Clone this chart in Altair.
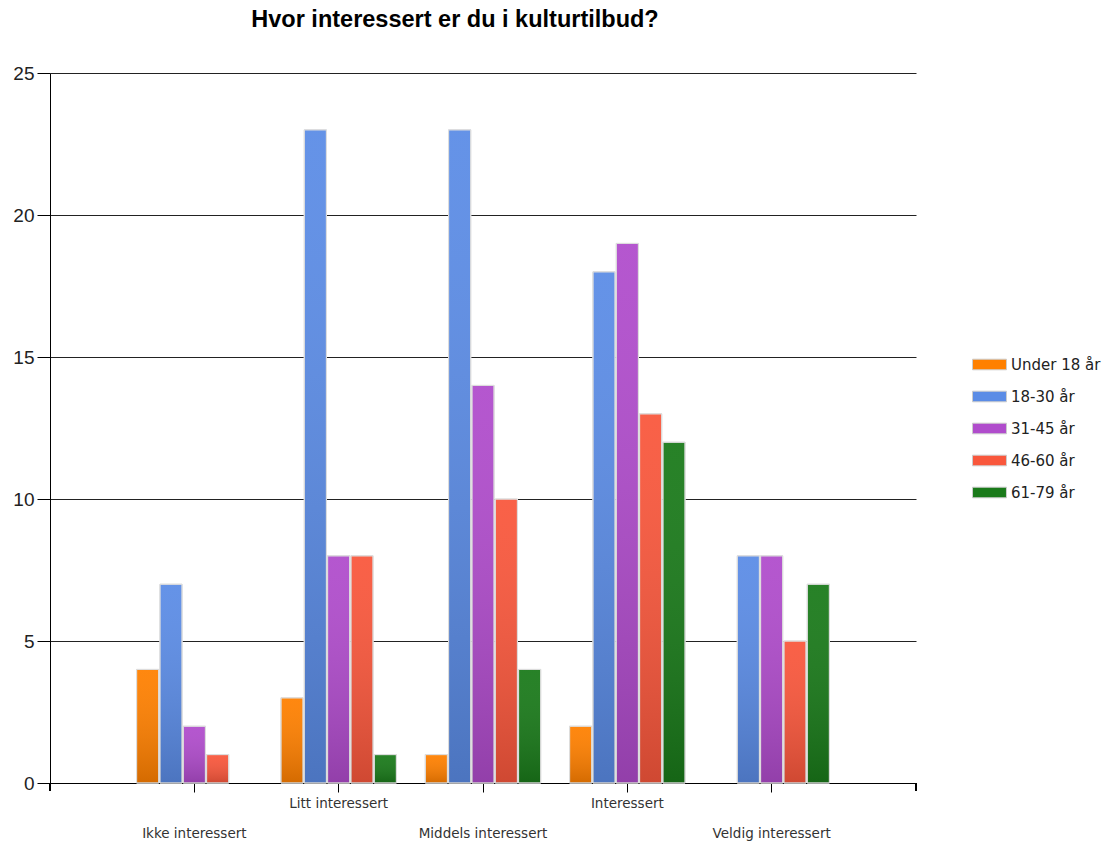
import altair as alt
import pandas as pd

categories = ["Ikke interessert", "Litt interessert", "Middels interessert", "Interessert", "Veldig interessert"]
series = ["Under 18 år", "18-30 år", "31-45 år", "46-60 år", "61-79 år"]
under18 = [4, 3, 1, 2, 0]
age18_30 = [7, 23, 23, 18, 8]
age31_45 = [2, 8, 14, 19, 8]
age46_60 = [1, 8, 10, 13, 5]
age61_79 = [0, 1, 4, 12, 7]
colors = ["#FF8000", "#5B8CE6", "#B04CCC", "#F9573C", "#1A7A1A"]

values = [under18, age18_30, age31_45, age46_60, age61_79]
rows = []
for s, vals in zip(series, values):
    for c, v in zip(categories, vals):
        rows.append({"cat": c, "series": s, "value": v})
df = pd.DataFrame(rows)
df = df[df["value"] > 0]

W, H = 866, 710

x_enc = alt.X("cat:N", sort=categories,
              scale=alt.Scale(domain=categories, paddingInner=0.2, paddingOuter=0.6),
              axis=alt.Axis(title=None, labelAngle=0, tickSize=9, tickColor="#000",
                            domainColor="#000", labelFont="DejaVu Sans", labelFontSize=13.5,
                            labelColor="#333", labelPadding=4, grid=False,
                            labelLineHeight=30,
                            labelExpr="indexof(['Litt interessert','Interessert'], datum.value) >= 0 ? datum.label : ['', datum.label]"))
xo_enc = alt.XOffset("series:N", sort=series,
                     scale=alt.Scale(domain=series, paddingInner=0.05, paddingOuter=0))
y_enc = alt.Y("value:Q", scale=alt.Scale(domain=[0, 25], nice=False),
              axis=alt.Axis(title=None, values=[0, 5, 10, 15, 20, 25], tickSize=13,
                            tickColor="#000", domainColor="#000", gridColor="#222",
                            labelFont="Liberation Sans", labelFontSize=19, labelColor="#222",
                            labelPadding=3))

base = alt.Chart(df)

bars = base.mark_bar(stroke="#dddddd", strokeWidth=1).encode(
    x=x_enc, xOffset=xo_enc, y=y_enc,
    fill=alt.Fill("series:N", sort=series,
                  scale=alt.Scale(domain=series, range=colors),
                  legend=alt.Legend(title=None, orient="none", legendX=928, legendY=280,
                                    symbolType="M-1.6,-0.5H1.6V0.5H-1.6Z", symbolSize=450,
                                    symbolStrokeColor="#cccccc", symbolStrokeWidth=1,
                                    labelFont="DejaVu Sans", labelFontSize=15,
                                    labelColor="#222", rowPadding=12, labelOffset=10,
                                    symbolOpacity=1)),
)

shade = base.mark_bar(
    fill=alt.Gradient(gradient="linear", x1=0, y1=0, x2=0, y2=1,
                      stops=[alt.GradientStop(color="rgba(255,255,255,0.06)", offset=0),
                             alt.GradientStop(color="rgba(0,0,0,0.17)", offset=1)]),
    stroke="#dddddd", strokeWidth=1,
).encode(x=x_enc, xOffset=xo_enc, y=y_enc)

edge_left = alt.Chart(df).mark_rule(color="#000").encode(
    x=alt.value(0), y=alt.value(H), y2=alt.value(H + 8))
edge_right = alt.Chart(df).mark_rule(color="#000").encode(
    x=alt.value(W), y=alt.value(H), y2=alt.value(H + 8))

chart = alt.layer(bars, shade, edge_left, edge_right).properties(
    width=W, height=H,
    title=alt.Title("Hvor interessert er du i kulturtilbud?", font="Liberation Sans",
                    fontSize=23.5, fontWeight="bold", color="#000", anchor="middle",
                    dx=-28, dy=28, offset=42, baseline="alphabetic"),
    autosize=alt.AutoSizeParams(type="none"),
    padding={"left": 50, "top": 73, "right": 189, "bottom": 59},
).configure_view(stroke=None)

chart.save("out.html", embed_options={"renderer": "svg", "actions": False})
